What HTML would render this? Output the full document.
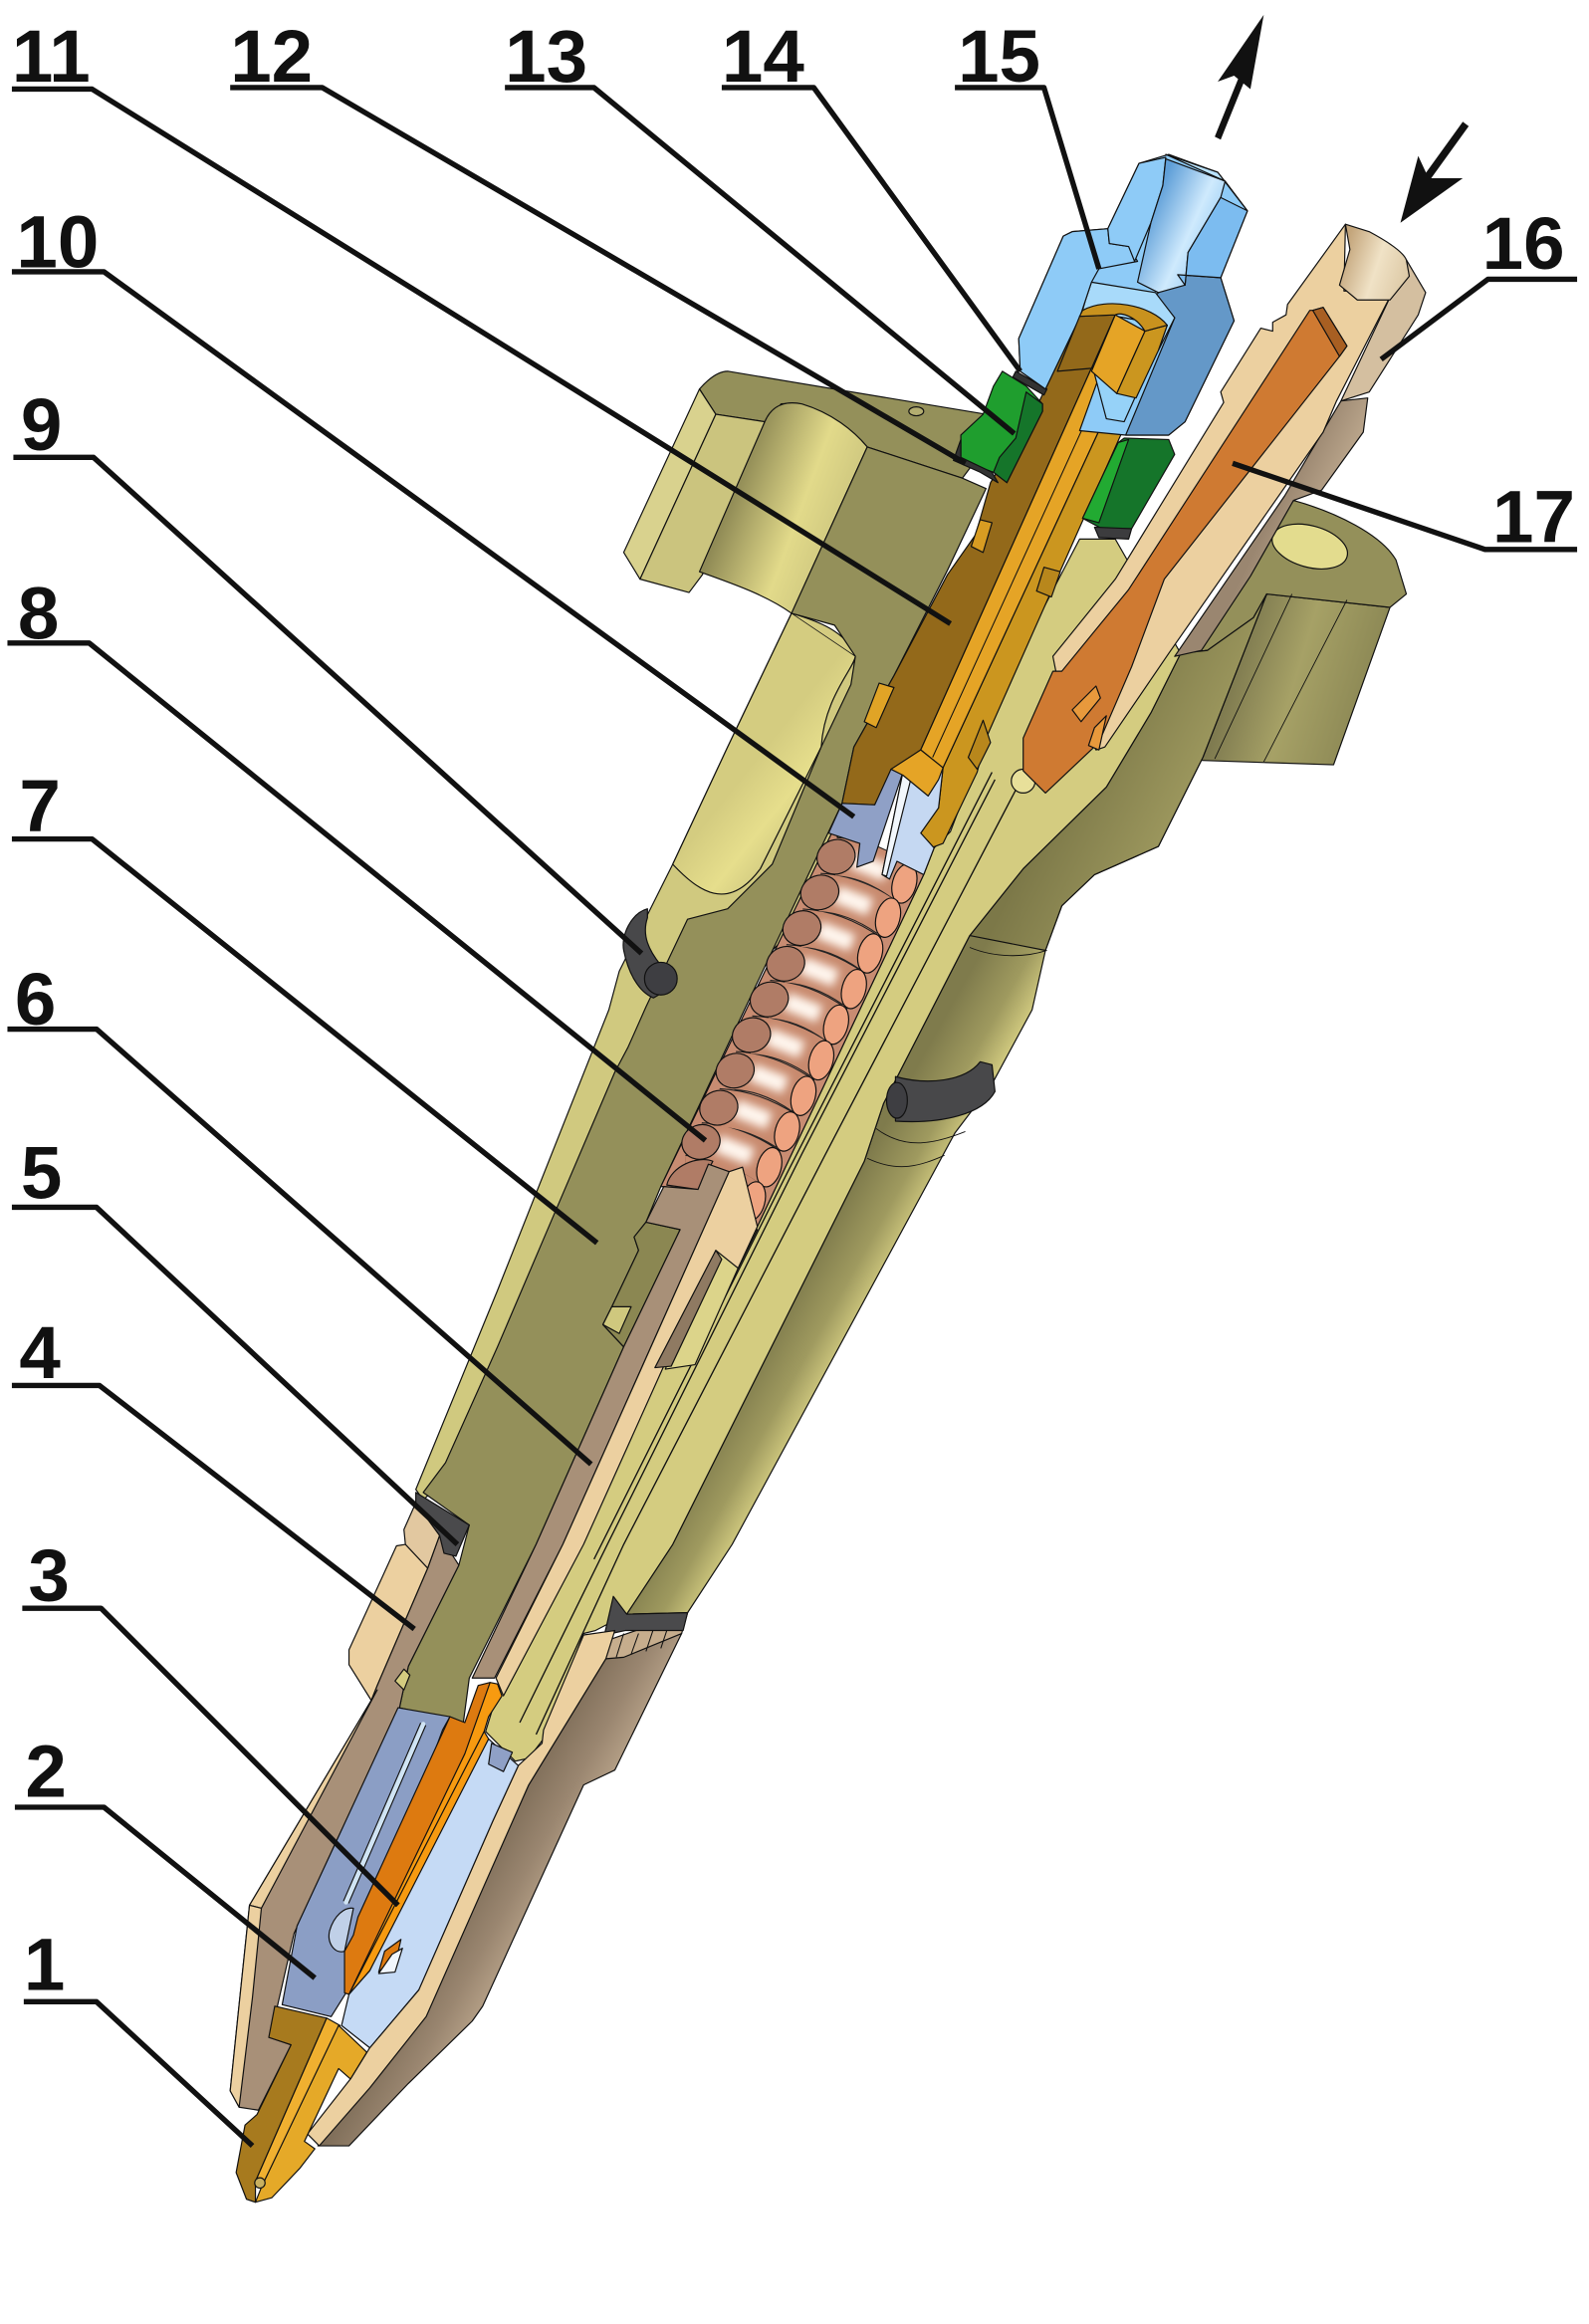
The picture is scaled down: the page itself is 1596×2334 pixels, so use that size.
<!DOCTYPE html>
<html><head><meta charset="utf-8"><style>
html,body{margin:0;padding:0;background:#fff}
svg{display:block}
text{font-family:"Liberation Sans",sans-serif;font-weight:bold;font-size:50px;fill:#111}
</style></head><body>
<svg xmlns="http://www.w3.org/2000/svg" width="1596" height="2334" viewBox="0 0 1070 1565" preserveAspectRatio="none">
<defs>
<linearGradient id="gBody" gradientUnits="userSpaceOnUse" x1="582" y1="782" x2="625" y2="806"><stop offset="0" stop-color="#7f7b4c"/><stop offset=".6" stop-color="#9f9a5f"/><stop offset="1" stop-color="#cfc87e"/></linearGradient>
<linearGradient id="gBore" gradientUnits="userSpaceOnUse" x1="490" y1="340" x2="570" y2="370"><stop offset="0" stop-color="#8f8a55"/><stop offset=".55" stop-color="#e2da8a"/><stop offset="1" stop-color="#c9c27c"/></linearGradient>
<linearGradient id="gFl" gradientUnits="userSpaceOnUse" x1="820" y1="450" x2="920" y2="480"><stop offset="0" stop-color="#75714a"/><stop offset=".5" stop-color="#a6a166"/><stop offset="1" stop-color="#8b8754"/></linearGradient>
<linearGradient id="gSh" gradientUnits="userSpaceOnUse" x1="700" y1="560" x2="780" y2="600"><stop offset="0" stop-color="#7c7848"/><stop offset="1" stop-color="#a09b60"/></linearGradient>
<linearGradient id="gHole" gradientUnits="userSpaceOnUse" x1="470" y1="560" x2="520" y2="600"><stop offset="0" stop-color="#d4cc80"/><stop offset=".5" stop-color="#e6de8c"/><stop offset="1" stop-color="#c9c27c"/></linearGradient>
<linearGradient id="gTan" gradientUnits="userSpaceOnUse" x1="330" y1="1240" x2="375" y2="1265"><stop offset="0" stop-color="#7e6d58"/><stop offset=".6" stop-color="#9a8670"/><stop offset="1" stop-color="#b49f86"/></linearGradient>
<linearGradient id="gPipe" gradientUnits="userSpaceOnUse" x1="860" y1="340" x2="900" y2="360"><stop offset="0" stop-color="#9a8670"/><stop offset="1" stop-color="#c9b498"/></linearGradient>
<linearGradient id="gCone" gradientUnits="userSpaceOnUse" x1="905" y1="170" x2="950" y2="185"><stop offset="0" stop-color="#c4a67c"/><stop offset=".5" stop-color="#f0e2c6"/><stop offset="1" stop-color="#dcc8a4"/></linearGradient>
<linearGradient id="gNutBore" gradientUnits="userSpaceOnUse" x1="775" y1="140" x2="830" y2="165"><stop offset="0" stop-color="#5f9fd8"/><stop offset=".5" stop-color="#cfeafd"/><stop offset="1" stop-color="#7dbcee"/></linearGradient>
<filter id="bl" x="-50%" y="-50%" width="200%" height="200%"><feGaussianBlur stdDeviation="3"/></filter>
<clipPath id="cCoil"><polygon points="561,559 580,565 629,571 622,589 509,828 445,810 445,797"/></clipPath>
</defs>
<rect width="1070" height="1565" fill="#fff"/>

<g stroke="#111" stroke-width=".8" stroke-linejoin="round">
<!-- right flange -->
<polygon points="853,400 936,409 898,515 807,512 780,570 737,589 795,440 813,438 844,416" fill="url(#gFl)"/>
<path d="M871,337 C900,345 930,360 940,377 L947,400 L936,409 L853,400 L844,416 C835,430 825,438 813,438 L795,440 Z" fill="#94905a"/>
<ellipse cx="882" cy="368" rx="26" ry="14" fill="#e3dc8e" transform="rotate(15 882 368)"/>
<path d="M870,400L818,511M907,404L851,513" fill="none" stroke-width=".6"/>
<!-- right body surface -->
<polygon points="795,440 813,438 844,416 853,400 810,510 780,570 737,589 715,610 704,640 695,680 668,730 643,763 493,1040 463,1086 422,1087 453,1040 582,782 595,743 653,630 689,585 745,530 775,480" fill="url(#gBody)"/>
<polygon points="795,440 813,438 844,416 853,400 810,510 780,570 737,589 715,610 704,640 653,630 689,585 745,530 775,480" fill="url(#gSh)"/>
<path d="M653,638C670,645 690,645 705,640M590,760C610,775 630,770 650,762M584,780C605,790 620,785 636,778" fill="none" stroke-width=".6"/>

<!-- left ear -->
<path d="M471,262C478,254 484,250 490,250L664,279L672,290L648,322L584,301C570,285 545,270 526,272L515,284L482,279Z" fill="#94905a"/>
<ellipse cx="617" cy="277" rx="5" ry="3" fill="#b3ad70"/>
<path d="M420,372L471,262L482,279L431,390Z" fill="#d9d28e"/>
<polygon points="482,279 515,284 473,387 464,399 431,390" fill="#cbc47e"/>
<path d="M515,284C520,272 530,270 540,272C560,278 575,290 584,301L533,413C515,400 490,392 471,385Z" fill="url(#gBore)"/>
<!-- left strip -->
<polygon points="533,413 600,450 560,600 480,680 420,800 340,960 285,1010 280,1003 335,869 410,680 417,654 438,612 453,582 490,503" fill="#d0c97f"/>
<path d="M490,503L453,582C470,600 490,615 512,585L553,503C555,470 575,450 576,442C570,425 550,418 533,413Z" fill="url(#gHole)"/>
<!-- dark section -->
<polygon points="584,301 648,322 664,329 638,384 602,455 575,503 567,541 445,799 435,823 427,833 430,842 412,880 406,892 420,907 361,1040 316,1130 312,1160 269,1150 275,1122 309,1054 316,1027 285,1005 300,985 335,907 373,818 414,722 423,705 435,678 463,619 490,612 520,582 553,503 573,461 576,442 562,421 533,413" fill="#94905a"/>
<path d="M533,413L576,442" fill="none" stroke-width=".5"/>
<!-- cutout in section -->
<polygon points="435,823 458,828 420,907 406,892 412,880 430,842 427,833" fill="#8b8752"/>
<polygon points="412,880 425,880 417,898 406,892" fill="#cfc87e"/>

<!-- centre yellow section -->
<polygon points="727,363 693,428 664,497 640,560 629,571 622,589 509,828 470,860 380,1040 335,1140 327,1166 347,1186 356,1184 366,1171 393,1100 401,1098 422,1087 453,1040 582,782 595,743 653,630 689,585 745,530 775,480 795,440 751,363" fill="#d4cc80"/>
<path d="M670,525L540,777L409,1040L350,1160M685,530L556,777L420,1040L361,1168M668,520L640,575L530,790L400,1050" fill="none" stroke-width=".9"/>
<circle cx="689" cy="526" r="8" fill="#e8e09a"/>
<polygon points="482,842 510,828 497,854 468,919 448,922" fill="#dcd48a"/>

<!-- spring bore -->
<polygon points="561,559 577,584 629,571 622,589 509,828 499,785 479,782 473,801 445,799" fill="#c88c72"/>
<g clip-path="url(#cCoil)" fill="none">
<path d="M563,577Q586,578 609,595M552,601Q575,602 598,618M540,625Q563,626 586,642M529,649Q552,650 575,666M518,673Q541,674 563,690M506,697Q530,698 553,714M495,721Q518,722 541,738M484,746Q507,747 530,762M472,769Q495,770 518,786M461,791Q484,792 507,809" stroke="#222" stroke-width="26.5"/>
<path d="M563,577Q586,578 609,595M552,601Q575,602 598,618M540,625Q563,626 586,642M529,649Q552,650 575,666M518,673Q541,674 563,690M506,697Q530,698 553,714M495,721Q518,722 541,738M484,746Q507,747 530,762M472,769Q495,770 518,786M461,791Q484,792 507,809" stroke="#c88a6e" stroke-width="25"/>
<path d="M574,579L597,588M563,602L586,611M551,626L574,635M540,650L563,659M529,674L552,683M517,698L540,707M506,722L529,731M495,746L518,755M483,770L506,779" stroke="#fff6ee" stroke-width="12" filter="url(#bl)"/>
</g>
<g fill="#b07c66">
<ellipse cx="563" cy="577" rx="13" ry="11.5" transform="rotate(-20 563 577)"/>
<ellipse cx="552" cy="601" rx="13" ry="11.5" transform="rotate(-20 552 601)"/>
<ellipse cx="540" cy="625" rx="13" ry="11.5" transform="rotate(-20 540 625)"/>
<ellipse cx="529" cy="649" rx="13" ry="11.5" transform="rotate(-20 529 649)"/>
<ellipse cx="518" cy="673" rx="13" ry="11.5" transform="rotate(-20 518 673)"/>
<ellipse cx="506" cy="697" rx="13" ry="11.5" transform="rotate(-20 506 697)"/>
<ellipse cx="495" cy="721" rx="13" ry="11.5" transform="rotate(-20 495 721)"/>
<ellipse cx="484" cy="746" rx="13" ry="11.5" transform="rotate(-20 484 746)"/>
<ellipse cx="472" cy="769" rx="13" ry="11.5" transform="rotate(-20 472 769)"/>
<path d="M449,798C452,785 470,778 480,782L470,801Z"/>
</g>
<g fill="#eea380">
<ellipse cx="609" cy="595" rx="8" ry="13.5" transform="rotate(15 609 595)"/>
<ellipse cx="598" cy="618" rx="8" ry="13.5" transform="rotate(15 598 618)"/>
<ellipse cx="586" cy="642" rx="8" ry="13.5" transform="rotate(15 586 642)"/>
<ellipse cx="575" cy="666" rx="8" ry="13.5" transform="rotate(15 575 666)"/>
<ellipse cx="563" cy="690" rx="8" ry="13.5" transform="rotate(15 563 690)"/>
<ellipse cx="553" cy="714" rx="8" ry="13.5" transform="rotate(15 553 714)"/>
<ellipse cx="541" cy="738" rx="8" ry="13.5" transform="rotate(15 541 738)"/>
<ellipse cx="530" cy="762" rx="8" ry="13.5" transform="rotate(15 530 762)"/>
<ellipse cx="518" cy="786" rx="8" ry="13.5" transform="rotate(15 518 786)"/>
<ellipse cx="507" cy="809" rx="8" ry="13.5" transform="rotate(15 507 809)"/>
</g>

<!-- spring seat / push rod -->
<polygon points="447,799 470,801 477,784 491,789 379,1040 333,1130 318,1130 361,1040 420,907 458,828 435,823" fill="#a89078"/>
<polygon points="491,789 500,786 510,826 497,854 482,842 393,1040 339,1142 334,1130 379,1040" fill="#ecd0a0"/>
<polygon points="482,842 486,848 452,920 441,921" fill="#8f7a62"/>

<!-- gold 11 -->
<polygon points="727,213 751,212 620,505 601,518 589,542 567,541 575,503 602,455 638,387 657,360 667,325 700,270" fill="#93691a"/>
<polygon points="771,223 786,219 780,236 664,497 658,520 635,568 627,571 620,561 632,544 635,517" fill="#cb961f"/>
<polygon points="751,212 771,223 635,517 620,505" fill="#e5a426"/>
<path d="M762,216L628,510" fill="none" stroke-width=".7"/>
<path d="M729,209C745,200 775,205 786,219L771,223C765,213 755,210 751,212L727,213Z" fill="#c9921e"/>
<polygon points="703,382 714,385 708,402 698,398" fill="#b8871c"/>
<polygon points="592,460 602,463 590,490 582,486" fill="#e0a426"/>
<polygon points="660,350 668,352 662,372 654,368" fill="#d89c22"/>
<polygon points="662,485 667,500 658,518 652,510" fill="#b8871c"/>
<!-- blue retainer 10 -->
<polygon points="608,520 635,517 632,544 620,561 629,571 622,589 604,580 599,592 594,589" fill="#c5d8f2"/>
<polygon points="558,561 567,541 589,542 600,518 608,520 588,580 577,584 579,568" fill="#8fa0c6"/>
<polygon points="608,520 614,522 597,590 594,589" fill="#f2f7fc"/>
<polygon points="600,518 620,505 635,517 632,525 625,536 608,522" fill="#e5a426"/>

<!-- green parts -->
<polygon points="675,250 691,260 702,272 702,277 678,325 669,318 647,310 647,293 662,279 669,260" fill="#1f9e2e"/>
<polygon points="691,264 702,272 702,277 678,325 669,318 673,308 684,295" fill="#15752a"/>
<polygon points="757,295 787,296 791,306 762,356 742,356 729,349 753,298" fill="#15752a"/>
<polygon points="753,298 760,296 740,352 729,349" fill="#22aa32"/>
<polygon points="737,355 762,356 760,363 740,362" fill="#3c3c3e"/>
<polygon points="647,296 642,310 660,318 672,325 668,318 647,308" fill="#333"/>
<polygon points="684,250 705,262 703,266 682,254" fill="#333"/>

<!-- blue nut 15 -->
<polygon points="767,110 787,104 820,116 840,142 822,187 831,216 798,284 787,293 758,293 727,290 745,240 727,214 704,262 687,250 686,228 716,159 722,156 746,154" fill="#8ecbf7"/>
<polygon points="729,209 786,219 757,284 745,282 727,214" fill="#96d2f8"/>
<polygon points="822,187 831,216 798,284 787,293 758,293 791,214 778,199 793,185" fill="#6498c8"/>
<polygon points="735,190 778,197 791,214 780,236 786,219 729,209 731,202" fill="#a8dafa"/>
<polygon points="722,156 746,154 747,164 760,166 766,176 740,181 735,190 727,214 704,262 687,250 686,228 716,159" fill="#8ecbf7"/>
<polygon points="767,110 785,106 783,125 775,150 764,176 760,166 747,164 746,154" fill="#8ecbf7"/>
<polygon points="785,107 825,122 822,133 800,170 798,192 780,197 766,190 775,150 783,125" fill="url(#gNutBore)"/>
<polygon points="822,133 840,142 822,187 793,185 798,192 800,170" fill="#7cbcf0"/>
<polygon points="785,104 820,116 840,142 825,122" fill="#b9e2fb"/>
<!-- re-draw gold top over nut -->
<polygon points="727,213 751,212 735,248 712,250" fill="#93691a"/>
<polygon points="751,212 771,223 752,265 735,250" fill="#e5a426"/>
<polygon points="771,223 786,219 780,236 765,268 752,265" fill="#cb961f"/>
<path d="M729,209C745,200 775,205 786,219L771,223C765,213 755,210 751,212L727,213Z" fill="#c9921e"/>

<!-- tan pipe 16 -->
<polygon points="903,270 921,268 918,291 890,330 871,337 842,388 809,438 791,442 865,334" fill="url(#gPipe)"/>
<path d="M947,175L960,197L955,212L922,264L903,270L938,196Z" fill="#d4bfa0"/>
<polygon points="906,151 867,205 866,212 857,217 857,223 849,221 822,264 824,271 751,390 709,442 711,452 738,505 744,503 787,440 891,291 900,270 938,196 905,196" fill="#ecd0a0"/>
<path d="M906,151L922,156C935,163 945,170 947,175L949,186L936,202L914,202L902,192L909,168Z" fill="url(#gCone)"/>
<polygon points="884,209 891,207 907,233 902,240 784,390 762,449 740,500 704,534 689,519 689,497 709,452 715,452 760,397 882,209" fill="#cf7a32"/>
<polygon points="884,209 891,207 907,233 902,240" fill="#a85f22"/>
<polygon points="722,478 738,462 741,470 728,486" fill="#e8993c"/>
<polygon points="737,490 745,482 740,505 733,502" fill="#e8993c"/>

<!-- outer tan right -->
<polygon points="408,1117 459,1100 414,1192 393,1202 325,1351 318,1361 275,1403 235,1445 214,1445 285,1360 356,1202" fill="url(#gTan)"/>
<polygon points="408,1105 463,1086 459,1100 420,1116 408,1117" fill="#c6ad8d"/>
<path d="M420,1100L415,1116M430,1100L425,1114M440,1097L435,1112M450,1095L445,1110" fill="none" stroke-width=".7"/>
<polygon points="407,1101 413,1075 422,1087 463,1086 460,1098 421,1098" fill="#4a4a4c"/>
<!-- tan light strip right -->
<polygon points="393,1101 414,1098 408,1117 356,1202 287,1358 249,1406 215,1445 207,1437 236,1400 249,1379 282,1340 332,1226 349,1189 365,1174 366,1165" fill="#ecd0a0"/>
<!-- light blue -->
<polygon points="329,1171 349,1189 332,1226 282,1340 249,1379 230,1364 235,1343" fill="#c5daf5"/>
<polygon points="331,1174 345,1180 339,1193 329,1188" fill="#8fa0c6"/>

<!-- left nut -->
<polygon points="296,1034 309,1054 275,1122 269,1150 226,1241 198,1302 187,1350 182,1372 196,1377 174,1421 161,1419 155,1408 161,1350 168,1283 250,1145 254,1135 288,1056" fill="#a89078"/>
<polygon points="267,1041 273,1040 288,1056 254,1135 250,1145 235,1121 235,1111" fill="#ecd0a0"/>
<polygon points="250,1145 254,1138 176,1285 168,1283" fill="#ecd0a0"/>
<polygon points="168,1283 176,1285 170,1345 161,1419 155,1408 161,1350" fill="#ecd0a0"/>
<polygon points="272,1030 280,1012 296,1034 288,1056 273,1040" fill="#e2c8a0"/>
<polygon points="280,1005 316,1027 307,1048 299,1046 296,1034 280,1012" fill="#4a4a4c"/>
<polygon points="266,1132 272,1124 276,1128 272,1138" fill="#d4cc80"/>
<!-- blue left -->
<polygon points="268,1150 303,1156 298,1165 233,1342 223,1358 190,1350 200,1297 226,1241" fill="#8b9ec5"/>
<path d="M285,1161L233,1281" fill="none" stroke="#111" stroke-width="4.5"/>
<path d="M285,1161L233,1281" fill="none" stroke="#d0e4f4" stroke-width="3" style="stroke-linecap:round"/>
<path d="M222,1300C225,1290 232,1284 238,1285L232,1314C225,1316 220,1308 222,1300Z" fill="#c0d0e8"/>
<polygon points="259,1314 270,1306 268,1315 255,1328" fill="#dd7a10"/>
<polygon points="264,1316 271,1312 266,1328 255,1329" fill="#f1f6fc"/>
<!-- orange needle -->
<polygon points="322,1135 330,1133 323,1161 249,1327 235,1343 232,1342 232,1314 238,1303 241,1291 303,1156 313,1160" fill="#dd7a10"/>
<polygon points="330,1133 335,1134 338,1142 329,1156 326,1166 329,1171 249,1327 235,1343 313,1181" fill="#f79a10"/>
<path d="M326,1166L235,1343" fill="none"/>
<!-- gold nozzle -->
<polygon points="185,1351 220,1359 172,1469 172,1483 166,1481 159,1463 165,1431 173,1424 196,1377 181,1372" fill="#a77a1e"/>
<polygon points="220,1359 229,1364 176,1473 172,1469" fill="#f0b030"/>
<polygon points="228,1364 247,1382 236,1400 228,1393 205,1442 212,1447 202,1460 183,1480 172,1483 176,1473" fill="#e5a928"/>
<circle cx="175" cy="1470" r="3.5" fill="#c9b060"/>

<!-- rings -->
<path d="M436,612C425,615 418,630 420,640C423,655 430,668 440,672L452,665L445,650C437,640 432,630 436,618Z" fill="#48484a"/>
<ellipse cx="445" cy="659" rx="11" ry="11" fill="#3e3e42"/>
<path d="M603,725C625,731 650,728 660,715L668,717L670,735C662,750 635,757 603,755Z" fill="#48484a"/>
<ellipse cx="604" cy="741" rx="7" ry="12" fill="#3e3e42"/>
</g>

<!-- arrows -->
<g fill="#111" stroke="none">
<path d="M818,92L835,50L839,52L822,94Z"/>
<polygon points="851,10 820,55 831,51 842,60"/>
<path d="M985,82L989,85L963,121L959,118Z"/>
<polygon points="943,150 955,105 962,120 985,120"/>
</g>

<!-- leaders -->
<g fill="none" stroke="#111" stroke-width="3.6" stroke-linejoin="round">
<polyline points="16,1348 65,1348 170,1445"/>
<polyline points="10,1217 70,1217 212,1332"/>
<polyline points="15,1083 68,1083 268,1283"/>
<polyline points="8,933 67,933 279,1097"/>
<polyline points="8,813 65,813 308,1040"/>
<polyline points="5,693 65,693 398,986"/>
<polyline points="8,565 62,565 402,837"/>
<polyline points="5,433 60,433 475,768"/>
<polyline points="9,308 63,308 432,642"/>
<polyline points="8,183 70,183 575,550"/>
<polyline points="8,60 62,60 640,420"/>
<polyline points="155,59 217,59 650,312"/>
<polyline points="340,59 400,59 683,292"/>
<polyline points="486,59 548,59 687,250"/>
<polyline points="643,59 703,59 740,181"/>
<polyline points="1062,188 1002,188 930,242"/>
<polyline points="1062,370 1000,370 830,312"/>
</g>

<!-- labels -->
<text x="16" y="1340">1</text>
<text x="17" y="1210">2</text>
<text x="19" y="1078">3</text>
<text x="13" y="928">4</text>
<text x="14" y="807">5</text>
<text x="10" y="690">6</text>
<text x="13" y="560">7</text>
<text x="12" y="430">8</text>
<text x="14" y="303">9</text>
<text x="11" y="180">10</text>
<text x="8" y="55">11</text>
<text x="155" y="55">12</text>
<text x="340" y="55">13</text>
<text x="486" y="55">14</text>
<text x="645" y="55">15</text>
<text x="998" y="181">16</text>
<text x="1005" y="365">17</text>
</svg>
</body></html>
